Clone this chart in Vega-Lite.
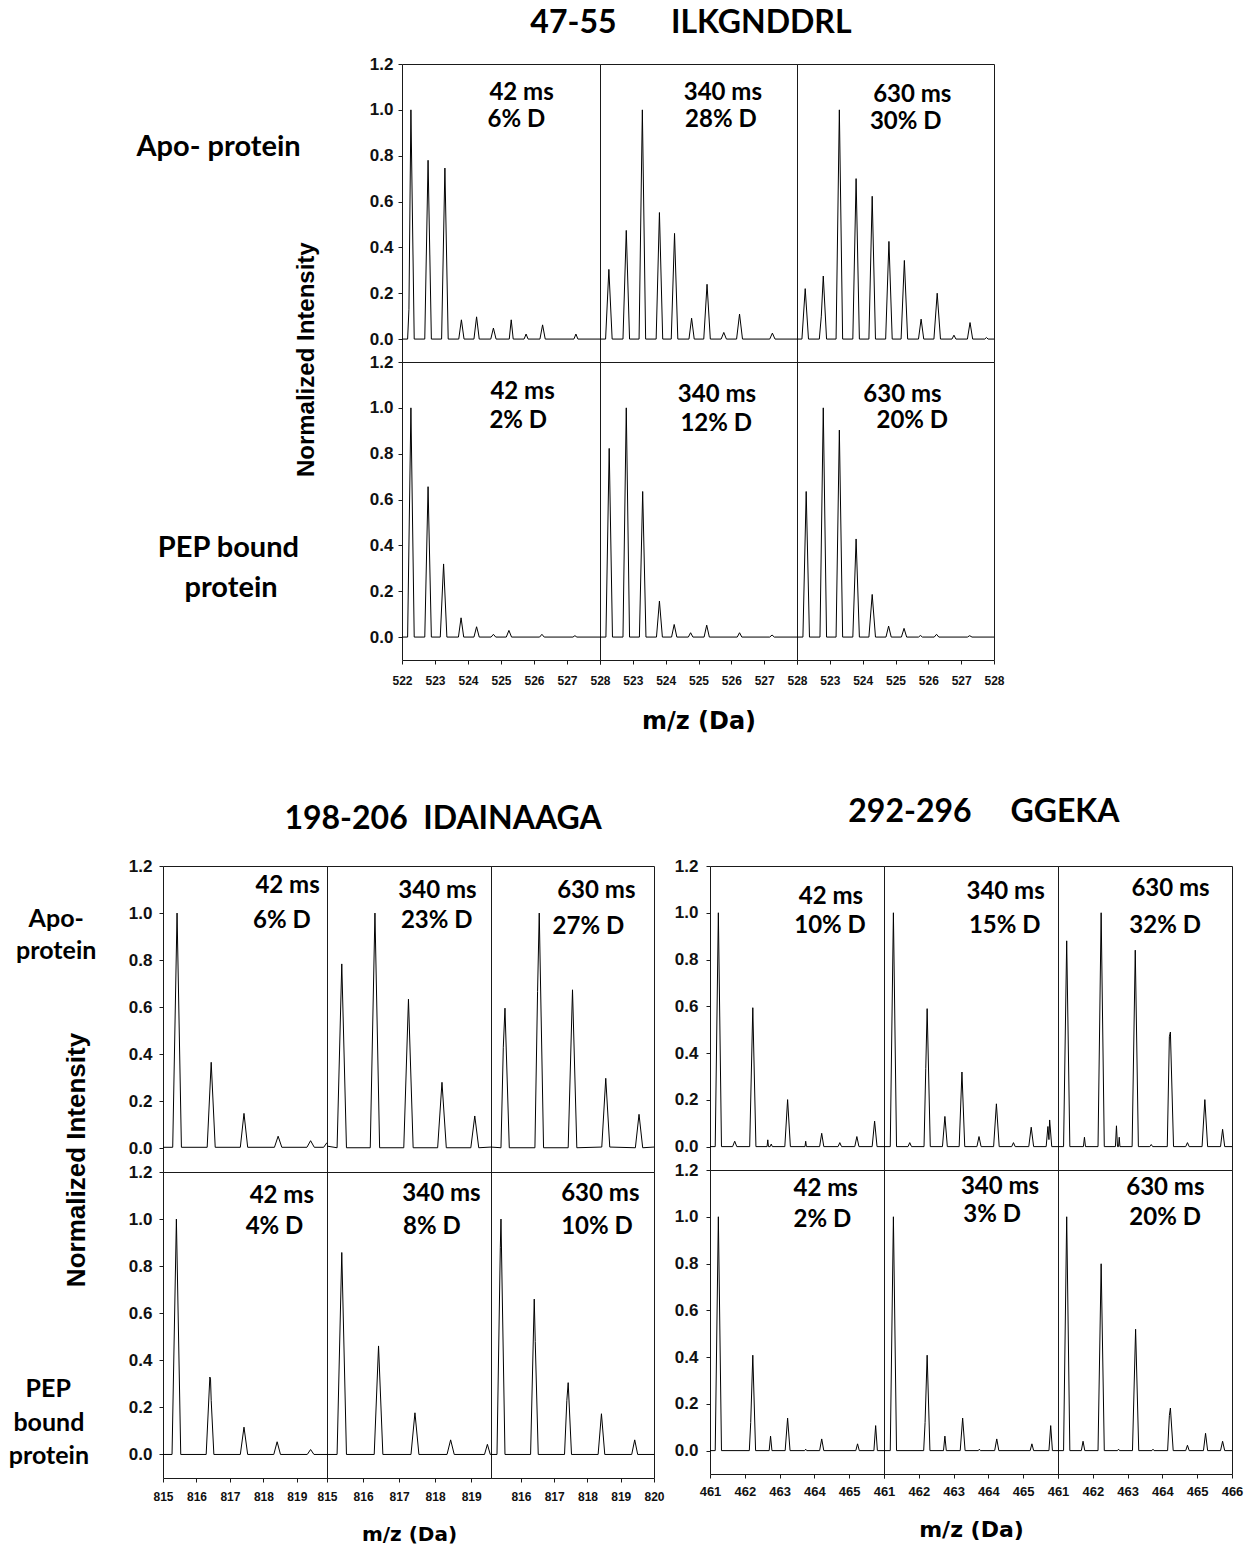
{
"$schema": "https://vega.github.io/schema/vega-lite/v6.json",
"background": "white",
"padding": {"left": 8, "top": 6, "right": 5, "bottom": 3},
"spacing": 61,
"config": {
  "view": {"stroke": "#1a1a1a", "strokeWidth": 1},
  "axis": {"grid": false, "domain": false, "ticks": true, "tickColor": "#1a1a1a", "tickSize": 4, "labelFont": "Liberation Sans", "labelFontWeight": "bold", "labelColor": "#111111", "labelOverlap": false, "labelFlush": false},
  "line": {"color": "black", "strokeWidth": 1},
  "text": {"font": "Lato", "fontSize": 24, "fontWeight": "bold", "align": "left", "baseline": "middle", "color": "black"}
},
"datasets": {
  "one": [{}],
  "b1a1": [{"mz":522,"i":0},{"mz":522.17,"i":0},{"mz":522.21,"i":0.13},{"mz":522.27,"i":1},{"mz":522.37,"i":0},{"mz":522.69,"i":0},{"mz":522.79,"i":0.78},{"mz":522.89,"i":0},{"mz":523.2,"i":0},{"mz":523.3,"i":0.746},{"mz":523.4,"i":0},{"mz":523.72,"i":0},{"mz":523.8,"i":0.084},{"mz":523.88,"i":0},{"mz":524.18,"i":0},{"mz":524.26,"i":0.097},{"mz":524.34,"i":0},{"mz":524.69,"i":0},{"mz":524.77,"i":0.048},{"mz":524.85,"i":0},{"mz":525.25,"i":0},{"mz":525.31,"i":0.084},{"mz":525.37,"i":0},{"mz":525.7,"i":0},{"mz":525.76,"i":0.022},{"mz":525.82,"i":0},{"mz":526.18,"i":0},{"mz":526.26,"i":0.062},{"mz":526.34,"i":0},{"mz":527.21,"i":0},{"mz":527.27,"i":0.022},{"mz":527.33,"i":0},{"mz":528,"i":0}],
  "b1a2": [{"mz":522,"i":0},{"mz":522.17,"i":0},{"mz":522.27,"i":0.304},{"mz":522.37,"i":0},{"mz":522.7,"i":0},{"mz":522.8,"i":0.474},{"mz":522.9,"i":0},{"mz":523.19,"i":0},{"mz":523.29,"i":1},{"mz":523.39,"i":0},{"mz":523.71,"i":0},{"mz":523.81,"i":0.552},{"mz":523.91,"i":0},{"mz":524.17,"i":0},{"mz":524.27,"i":0.461},{"mz":524.37,"i":0},{"mz":524.71,"i":0},{"mz":524.79,"i":0.091},{"mz":524.87,"i":0},{"mz":525.16,"i":0},{"mz":525.26,"i":0.239},{"mz":525.36,"i":0},{"mz":525.69,"i":0},{"mz":525.77,"i":0.029},{"mz":525.85,"i":0},{"mz":526.16,"i":0},{"mz":526.25,"i":0.109},{"mz":526.34,"i":0},{"mz":527.17,"i":0},{"mz":527.25,"i":0.026},{"mz":527.33,"i":0},{"mz":528,"i":0}],
  "b1a3": [{"mz":522,"i":0},{"mz":522.15,"i":0},{"mz":522.25,"i":0.22},{"mz":522.35,"i":0},{"mz":522.68,"i":0},{"mz":522.74,"i":0.1},{"mz":522.8,"i":0.275},{"mz":522.9,"i":0},{"mz":523.19,"i":0},{"mz":523.29,"i":1},{"mz":523.39,"i":0},{"mz":523.7,"i":0},{"mz":523.8,"i":0.7},{"mz":523.9,"i":0},{"mz":524.19,"i":0},{"mz":524.29,"i":0.623},{"mz":524.39,"i":0},{"mz":524.7,"i":0},{"mz":524.8,"i":0.426},{"mz":524.9,"i":0},{"mz":525.17,"i":0},{"mz":525.27,"i":0.343},{"mz":525.37,"i":0},{"mz":525.7,"i":0},{"mz":525.78,"i":0.087},{"mz":525.86,"i":0},{"mz":526.17,"i":0},{"mz":526.27,"i":0.2},{"mz":526.37,"i":0},{"mz":526.72,"i":0},{"mz":526.78,"i":0.017},{"mz":526.84,"i":0},{"mz":527.19,"i":0},{"mz":527.27,"i":0.072},{"mz":527.35,"i":0},{"mz":527.72,"i":0},{"mz":527.77,"i":0.007},{"mz":527.82,"i":0},{"mz":528,"i":0}],
  "b1b1": [{"mz":522,"i":0},{"mz":522.17,"i":0},{"mz":522.27,"i":1},{"mz":522.37,"i":0},{"mz":522.69,"i":0},{"mz":522.79,"i":0.656},{"mz":522.89,"i":0},{"mz":523.16,"i":0},{"mz":523.26,"i":0.319},{"mz":523.36,"i":0},{"mz":523.71,"i":0},{"mz":523.79,"i":0.084},{"mz":523.87,"i":0},{"mz":524.18,"i":0},{"mz":524.26,"i":0.045},{"mz":524.34,"i":0},{"mz":524.7,"i":0},{"mz":524.77,"i":0.012},{"mz":524.84,"i":0},{"mz":525.16,"i":0},{"mz":525.24,"i":0.029},{"mz":525.32,"i":0},{"mz":526.17,"i":0},{"mz":526.24,"i":0.012},{"mz":526.31,"i":0},{"mz":527.18,"i":0},{"mz":527.24,"i":0.006},{"mz":527.3,"i":0},{"mz":528,"i":0}],
  "b1b2": [{"mz":522,"i":0},{"mz":522.18,"i":0},{"mz":522.28,"i":0.823},{"mz":522.38,"i":0},{"mz":522.7,"i":0},{"mz":522.8,"i":1},{"mz":522.9,"i":0},{"mz":523.2,"i":0},{"mz":523.3,"i":0.635},{"mz":523.4,"i":0},{"mz":523.72,"i":0},{"mz":523.81,"i":0.157},{"mz":523.9,"i":0},{"mz":524.18,"i":0},{"mz":524.26,"i":0.055},{"mz":524.34,"i":0},{"mz":524.69,"i":0},{"mz":524.76,"i":0.019},{"mz":524.83,"i":0},{"mz":525.17,"i":0},{"mz":525.25,"i":0.052},{"mz":525.33,"i":0},{"mz":526.18,"i":0},{"mz":526.25,"i":0.019},{"mz":526.32,"i":0},{"mz":527.17,"i":0},{"mz":527.24,"i":0.009},{"mz":527.31,"i":0},{"mz":528,"i":0}],
  "b1b3": [{"mz":522,"i":0},{"mz":522.18,"i":0},{"mz":522.28,"i":0.635},{"mz":522.38,"i":0},{"mz":522.7,"i":0},{"mz":522.8,"i":1},{"mz":522.9,"i":0},{"mz":523.19,"i":0},{"mz":523.29,"i":0.903},{"mz":523.39,"i":0},{"mz":523.7,"i":0},{"mz":523.8,"i":0.428},{"mz":523.9,"i":0},{"mz":524.19,"i":0},{"mz":524.29,"i":0.186},{"mz":524.39,"i":0},{"mz":524.71,"i":0},{"mz":524.79,"i":0.048},{"mz":524.87,"i":0},{"mz":525.18,"i":0},{"mz":525.26,"i":0.038},{"mz":525.34,"i":0},{"mz":525.7,"i":0},{"mz":525.76,"i":0.007},{"mz":525.82,"i":0},{"mz":526.18,"i":0},{"mz":526.25,"i":0.012},{"mz":526.32,"i":0},{"mz":527.19,"i":0},{"mz":527.26,"i":0.006},{"mz":527.33,"i":0},{"mz":528,"i":0}],
  "b2a1": [{"mz":815,"i":0.005},{"mz":815.29,"i":0.005},{"mz":815.42,"i":1},{"mz":815.55,"i":0.005},{"mz":816.32,"i":0.005},{"mz":816.44,"i":0.366},{"mz":816.56,"i":0.005},{"mz":817.31,"i":0.005},{"mz":817.42,"i":0.149},{"mz":817.53,"i":0.005},{"mz":818.33,"i":0.005},{"mz":818.44,"i":0.052},{"mz":818.55,"i":0.005},{"mz":819.3,"i":0.005},{"mz":819.41,"i":0.033},{"mz":819.52,"i":0.005},{"mz":819.8,"i":0.005},{"mz":819.9,"i":0.025}],
  "b2a2": [{"mz":815,"i":0.01},{"mz":815.28,"i":0.003},{"mz":815.41,"i":0.784},{"mz":815.54,"i":0.003},{"mz":816.2,"i":0.003},{"mz":816.33,"i":1},{"mz":816.46,"i":0.003},{"mz":817.13,"i":0.003},{"mz":817.26,"i":0.634},{"mz":817.39,"i":0.003},{"mz":818.07,"i":0.003},{"mz":818.19,"i":0.281},{"mz":818.31,"i":0.003},{"mz":818.99,"i":0.003},{"mz":819.1,"i":0.138},{"mz":819.21,"i":0.003},{"mz":819.55,"i":0.006}],
  "b2a3": [{"mz":815.1,"i":0.006},{"mz":815.4,"i":0.003},{"mz":815.47,"i":0.43},{"mz":815.52,"i":0.596},{"mz":815.65,"i":0.003},{"mz":816.42,"i":0.003},{"mz":816.5,"i":0.667},{"mz":816.55,"i":1},{"mz":816.68,"i":0.003},{"mz":817.42,"i":0.003},{"mz":817.55,"i":0.674},{"mz":817.68,"i":0.003},{"mz":818.43,"i":0.006},{"mz":818.55,"i":0.298},{"mz":818.67,"i":0.006},{"mz":819.44,"i":0.003},{"mz":819.55,"i":0.145},{"mz":819.66,"i":0.003},{"mz":820,"i":0.006}],
  "b2b1": [{"mz":815,"i":0},{"mz":815.27,"i":0},{"mz":815.4,"i":1},{"mz":815.53,"i":0},{"mz":816.29,"i":0},{"mz":816.4,"i":0.329},{"mz":816.42,"i":0.32},{"mz":816.44,"i":0.23},{"mz":816.52,"i":0},{"mz":817.31,"i":0},{"mz":817.42,"i":0.116},{"mz":817.53,"i":0},{"mz":818.31,"i":0},{"mz":818.41,"i":0.054},{"mz":818.51,"i":0},{"mz":819.31,"i":0},{"mz":819.41,"i":0.021},{"mz":819.51,"i":0},{"mz":819.9,"i":0}],
  "b2b2": [{"mz":815,"i":0},{"mz":815.28,"i":0},{"mz":815.41,"i":0.858},{"mz":815.54,"i":0},{"mz":816.31,"i":0},{"mz":816.43,"i":0.461},{"mz":816.55,"i":0},{"mz":817.33,"i":0},{"mz":817.44,"i":0.177},{"mz":817.55,"i":0},{"mz":818.33,"i":0},{"mz":818.43,"i":0.062},{"mz":818.53,"i":0},{"mz":819.37,"i":0},{"mz":819.45,"i":0.043},{"mz":819.53,"i":0},{"mz":819.55,"i":0}],
  "b2b3": [{"mz":815.1,"i":0},{"mz":815.28,"i":0},{"mz":815.38,"i":0.88},{"mz":815.4,"i":1},{"mz":815.52,"i":0},{"mz":816.29,"i":0},{"mz":816.4,"i":0.66},{"mz":816.43,"i":0.48},{"mz":816.52,"i":0},{"mz":817.31,"i":0},{"mz":817.38,"i":0.23},{"mz":817.42,"i":0.305},{"mz":817.52,"i":0},{"mz":818.32,"i":0},{"mz":818.42,"i":0.173},{"mz":818.52,"i":0},{"mz":819.33,"i":0},{"mz":819.42,"i":0.062},{"mz":819.51,"i":0},{"mz":820,"i":0}],
  "b3a1": [{"mz":461,"i":0},{"mz":461.15,"i":0},{"mz":461.24,"i":1},{"mz":461.33,"i":0},{"mz":461.65,"i":0},{"mz":461.71,"i":0.023},{"mz":461.77,"i":0},{"mz":462.14,"i":0},{"mz":462.23,"i":0.594},{"mz":462.32,"i":0},{"mz":462.64,"i":0},{"mz":462.66,"i":0.029},{"mz":462.68,"i":0},{"mz":462.73,"i":0},{"mz":462.76,"i":0.011},{"mz":462.79,"i":0},{"mz":463.15,"i":0},{"mz":463.23,"i":0.201},{"mz":463.31,"i":0},{"mz":463.73,"i":0},{"mz":463.75,"i":0.023},{"mz":463.77,"i":0},{"mz":464.15,"i":0},{"mz":464.21,"i":0.057},{"mz":464.27,"i":0},{"mz":464.68,"i":0},{"mz":464.73,"i":0.017},{"mz":464.78,"i":0},{"mz":465.16,"i":0},{"mz":465.22,"i":0.043},{"mz":465.28,"i":0},{"mz":465.66,"i":0},{"mz":465.73,"i":0.109},{"mz":465.8,"i":0},{"mz":466,"i":0}],
  "b3a2": [{"mz":461,"i":0},{"mz":461.18,"i":0},{"mz":461.27,"i":1},{"mz":461.36,"i":0},{"mz":461.69,"i":0},{"mz":461.74,"i":0.017},{"mz":461.79,"i":0},{"mz":462.15,"i":0},{"mz":462.2,"i":0.333},{"mz":462.24,"i":0.59},{"mz":462.33,"i":0},{"mz":462.68,"i":0},{"mz":462.75,"i":0.129},{"mz":462.82,"i":0},{"mz":463.16,"i":0},{"mz":463.24,"i":0.319},{"mz":463.32,"i":0},{"mz":463.67,"i":0},{"mz":463.73,"i":0.043},{"mz":463.79,"i":0},{"mz":464.15,"i":0},{"mz":464.23,"i":0.183},{"mz":464.31,"i":0},{"mz":464.67,"i":0},{"mz":464.72,"i":0.017},{"mz":464.77,"i":0},{"mz":465.16,"i":0},{"mz":465.23,"i":0.083},{"mz":465.3,"i":0},{"mz":465.66,"i":0},{"mz":465.71,"i":0.086},{"mz":465.74,"i":0.03},{"mz":465.76,"i":0.114},{"mz":465.82,"i":0},{"mz":466,"i":0}],
  "b3a3": [{"mz":461,"i":0},{"mz":461.16,"i":0},{"mz":461.25,"i":0.88},{"mz":461.34,"i":0},{"mz":461.73,"i":0},{"mz":461.76,"i":0.04},{"mz":461.79,"i":0},{"mz":462.15,"i":0},{"mz":462.24,"i":1},{"mz":462.33,"i":0},{"mz":462.65,"i":0},{"mz":462.68,"i":0.089},{"mz":462.71,"i":0},{"mz":462.74,"i":0},{"mz":462.76,"i":0.04},{"mz":462.78,"i":0},{"mz":463.13,"i":0},{"mz":463.22,"i":0.84},{"mz":463.31,"i":0},{"mz":463.64,"i":0},{"mz":463.68,"i":0.009},{"mz":463.72,"i":0},{"mz":464.14,"i":0},{"mz":464.2,"i":0.47},{"mz":464.23,"i":0.49},{"mz":464.32,"i":0},{"mz":464.67,"i":0},{"mz":464.72,"i":0.017},{"mz":464.77,"i":0},{"mz":465.14,"i":0},{"mz":465.22,"i":0.201},{"mz":465.3,"i":0},{"mz":465.67,"i":0},{"mz":465.73,"i":0.074},{"mz":465.79,"i":0},{"mz":466,"i":0}],
  "b3b1": [{"mz":461,"i":0},{"mz":461.15,"i":0},{"mz":461.24,"i":1},{"mz":461.33,"i":0},{"mz":462.13,"i":0},{"mz":462.17,"i":0.12},{"mz":462.23,"i":0.408},{"mz":462.31,"i":0},{"mz":462.7,"i":0},{"mz":462.74,"i":0.062},{"mz":462.78,"i":0},{"mz":463.16,"i":0},{"mz":463.23,"i":0.139},{"mz":463.3,"i":0},{"mz":463.72,"i":0},{"mz":463.75,"i":0.006},{"mz":463.78,"i":0},{"mz":464.15,"i":0},{"mz":464.21,"i":0.05},{"mz":464.27,"i":0},{"mz":465.19,"i":0},{"mz":465.24,"i":0.029},{"mz":465.29,"i":0},{"mz":465.71,"i":0},{"mz":465.76,"i":0.107},{"mz":465.81,"i":0},{"mz":466,"i":0}],
  "b3b2": [{"mz":461,"i":0},{"mz":461.18,"i":0},{"mz":461.27,"i":1},{"mz":461.36,"i":0},{"mz":462.14,"i":0},{"mz":462.18,"i":0.12},{"mz":462.24,"i":0.408},{"mz":462.32,"i":0},{"mz":462.71,"i":0},{"mz":462.75,"i":0.062},{"mz":462.79,"i":0},{"mz":463.19,"i":0},{"mz":463.26,"i":0.139},{"mz":463.33,"i":0},{"mz":463.71,"i":0},{"mz":463.74,"i":0.006},{"mz":463.77,"i":0},{"mz":464.18,"i":0},{"mz":464.24,"i":0.05},{"mz":464.3,"i":0},{"mz":465.2,"i":0},{"mz":465.25,"i":0.029},{"mz":465.3,"i":0},{"mz":465.74,"i":0},{"mz":465.79,"i":0.107},{"mz":465.84,"i":0},{"mz":466,"i":0}],
  "b3b3": [{"mz":461,"i":0},{"mz":461.16,"i":0},{"mz":461.25,"i":1},{"mz":461.34,"i":0},{"mz":461.67,"i":0},{"mz":461.72,"i":0.04},{"mz":461.77,"i":0},{"mz":462.15,"i":0},{"mz":462.24,"i":0.799},{"mz":462.33,"i":0},{"mz":462.71,"i":0},{"mz":462.74,"i":0.006},{"mz":462.77,"i":0},{"mz":463.14,"i":0},{"mz":463.23,"i":0.519},{"mz":463.32,"i":0},{"mz":463.7,"i":0},{"mz":463.73,"i":0.006},{"mz":463.76,"i":0},{"mz":464.15,"i":0},{"mz":464.2,"i":0.15},{"mz":464.23,"i":0.182},{"mz":464.31,"i":0},{"mz":464.67,"i":0},{"mz":464.72,"i":0.023},{"mz":464.77,"i":0},{"mz":465.18,"i":0},{"mz":465.24,"i":0.074},{"mz":465.3,"i":0},{"mz":465.67,"i":0},{"mz":465.73,"i":0.04},{"mz":465.79,"i":0},{"mz":466,"i":0}]
},
"vconcat": [
  {"concat": [
    {"width": 239, "height": 298, "view": {"stroke": null}, "data": {"name": "one"}, "mark": {"type": "point", "opacity": 0}},
    {"width": 198, "height": 298, "layer": [
      {"data": {"name": "b1a1"}, "mark": "line", "encoding": {"x": {"field": "mz", "type": "quantitative", "scale": {"domain": [522, 528], "nice": false, "zero": false}, "axis": null}, "y": {"field": "i", "type": "quantitative", "scale": {"domain": [-0.1, 1.2], "nice": false, "zero": false}, "axis": {"values": [0, 0.2, 0.4, 0.6, 0.8, 1, 1.2], "tickCount": 20, "format": ".1f", "title": null, "labelOverlap": false, "labelFontSize": 17, "labelPadding": 5}}}},
      {"data": {"name": "one"}, "mark": {"type": "text", "text": "42 ms"}, "encoding": {"x": {"datum": 524.65, "type": "quantitative", "axis": null}, "y": {"datum": 1.072, "type": "quantitative"}}},
      {"data": {"name": "one"}, "mark": {"type": "text", "text": "6% D"}, "encoding": {"x": {"datum": 524.59, "type": "quantitative", "axis": null}, "y": {"datum": 0.957, "type": "quantitative"}}},
      {"data": {"name": "one"}, "mark": {"type": "text", "text": "Apo- protein", "fontSize": 29, "align": "center"}, "encoding": {"x": {"datum": 516.44, "type": "quantitative", "axis": null}, "y": {"datum": 0.836, "type": "quantitative"}}},
      {"data": {"name": "one"}, "mark": {"type": "text", "text": "Normalized Intensity", "font": "Liberation Sans", "fontSize": 24, "align": "center", "angle": 270}, "encoding": {"x": {"datum": 519.12, "type": "quantitative", "axis": null}, "y": {"datum": -0.09, "type": "quantitative"}}}
    ]},
    {"width": 197, "height": 298, "layer": [
      {"data": {"name": "b1a2"}, "mark": "line", "encoding": {"x": {"field": "mz", "type": "quantitative", "scale": {"domain": [522, 528], "nice": false, "zero": false}, "axis": null}, "y": {"field": "i", "type": "quantitative", "scale": {"domain": [-0.1, 1.2], "nice": false, "zero": false}, "axis": null}}},
      {"data": {"name": "one"}, "mark": {"type": "text", "text": "340 ms"}, "encoding": {"x": {"datum": 524.55, "type": "quantitative", "axis": null}, "y": {"datum": 1.072, "type": "quantitative", "axis": null}}},
      {"data": {"name": "one"}, "mark": {"type": "text", "text": "28% D"}, "encoding": {"x": {"datum": 524.59, "type": "quantitative", "axis": null}, "y": {"datum": 0.954, "type": "quantitative", "axis": null}}},
      {"data": {"name": "one"}, "mark": {"type": "text", "text": "47-55\u00a0\u00a0\u00a0\u00a0\u00a0\u00a0\u00a0ILKGNDDRL", "fontSize": 32, "align": "center"}, "encoding": {"x": {"datum": 524.77, "type": "quantitative", "axis": null}, "y": {"datum": 1.377, "type": "quantitative", "axis": null}}}
    ]},
    {"width": 197, "height": 298, "layer": [
      {"data": {"name": "b1a3"}, "mark": "line", "encoding": {"x": {"field": "mz", "type": "quantitative", "scale": {"domain": [522, 528], "nice": false, "zero": false}, "axis": null}, "y": {"field": "i", "type": "quantitative", "scale": {"domain": [-0.1, 1.2], "nice": false, "zero": false}, "axis": null}}},
      {"data": {"name": "one"}, "mark": {"type": "text", "text": "630 ms"}, "encoding": {"x": {"datum": 524.32, "type": "quantitative", "axis": null}, "y": {"datum": 1.065, "type": "quantitative", "axis": null}}},
      {"data": {"name": "one"}, "mark": {"type": "text", "text": "30% D"}, "encoding": {"x": {"datum": 524.22, "type": "quantitative", "axis": null}, "y": {"datum": 0.949, "type": "quantitative", "axis": null}}}
    ]},
    {"width": 239, "height": 298, "view": {"stroke": null}, "data": {"name": "one"}, "mark": {"type": "point", "opacity": 0}},
    {"width": 198, "height": 298, "layer": [
      {"data": {"name": "b1b1"}, "mark": "line", "encoding": {"x": {"field": "mz", "type": "quantitative", "scale": {"domain": [522, 528], "nice": false, "zero": false}, "axis": {"values": [522, 523, 524, 525, 526, 527, 528], "tickCount": 20, "format": "d", "title": null, "labelOverlap": false, "labelFontSize": 12, "labelPadding": 11}}, "y": {"field": "i", "type": "quantitative", "scale": {"domain": [-0.1, 1.2], "nice": false, "zero": false}, "axis": {"values": [0, 0.2, 0.4, 0.6, 0.8, 1, 1.2], "tickCount": 20, "format": ".1f", "title": null, "labelOverlap": false, "labelFontSize": 17, "labelPadding": 5}}}},
      {"data": {"name": "one"}, "mark": {"type": "text", "text": "42 ms"}, "encoding": {"x": {"datum": 524.68, "type": "quantitative"}, "y": {"datum": 1.07, "type": "quantitative"}}},
      {"data": {"name": "one"}, "mark": {"type": "text", "text": "2% D"}, "encoding": {"x": {"datum": 524.65, "type": "quantitative"}, "y": {"datum": 0.942, "type": "quantitative"}}},
      {"data": {"name": "one"}, "mark": {"type": "text", "text": "PEP bound", "fontSize": 29, "align": "center"}, "encoding": {"x": {"datum": 516.74, "type": "quantitative"}, "y": {"datum": 0.388, "type": "quantitative"}}},
      {"data": {"name": "one"}, "mark": {"type": "text", "text": "protein", "fontSize": 29, "align": "center"}, "encoding": {"x": {"datum": 516.82, "type": "quantitative"}, "y": {"datum": 0.212, "type": "quantitative"}}}
    ]},
    {"width": 197, "height": 298, "layer": [
      {"data": {"name": "b1b2"}, "mark": "line", "encoding": {"x": {"field": "mz", "type": "quantitative", "scale": {"domain": [522, 528], "nice": false, "zero": false}, "axis": {"values": [522, 523, 524, 525, 526, 527, 528], "tickCount": 20, "format": "d", "labelExpr": "datum.value == 522 ? '' : datum.label", "labelOverlap": false, "labelFontSize": 12, "labelPadding": 11, "title": "m/z (Da)", "titleFont": "DejaVu Sans", "titleFontSize": 24, "titleFontWeight": "bold", "titleColor": "black", "titleY": 61, "titleBaseline": "middle"}}, "y": {"field": "i", "type": "quantitative", "scale": {"domain": [-0.1, 1.2], "nice": false, "zero": false}, "axis": null}}},
      {"data": {"name": "one"}, "mark": {"type": "text", "text": "340 ms"}, "encoding": {"x": {"datum": 524.37, "type": "quantitative"}, "y": {"datum": 1.058, "type": "quantitative", "axis": null}}},
      {"data": {"name": "one"}, "mark": {"type": "text", "text": "12% D"}, "encoding": {"x": {"datum": 524.45, "type": "quantitative"}, "y": {"datum": 0.928, "type": "quantitative", "axis": null}}}
    ]},
    {"width": 197, "height": 298, "layer": [
      {"data": {"name": "b1b3"}, "mark": "line", "encoding": {"x": {"field": "mz", "type": "quantitative", "scale": {"domain": [522, 528], "nice": false, "zero": false}, "axis": {"values": [522, 523, 524, 525, 526, 527, 528], "tickCount": 20, "format": "d", "labelExpr": "datum.value == 522 ? '' : datum.label", "title": null, "labelOverlap": false, "labelFontSize": 12, "labelPadding": 11}}, "y": {"field": "i", "type": "quantitative", "scale": {"domain": [-0.1, 1.2], "nice": false, "zero": false}, "axis": null}}},
      {"data": {"name": "one"}, "mark": {"type": "text", "text": "630 ms"}, "encoding": {"x": {"datum": 524.02, "type": "quantitative"}, "y": {"datum": 1.058, "type": "quantitative", "axis": null}}},
      {"data": {"name": "one"}, "mark": {"type": "text", "text": "20% D"}, "encoding": {"x": {"datum": 524.42, "type": "quantitative"}, "y": {"datum": 0.942, "type": "quantitative", "axis": null}}}
    ]}
  ], "columns": 4, "spacing": 0, "bounds": "flush"},
  {"hconcat": [
    {"concat": [
      {"width": 164, "height": 306, "layer": [
        {"data": {"name": "b2a1"}, "mark": "line", "encoding": {"x": {"field": "mz", "type": "quantitative", "scale": {"domain": [815, 819.9], "nice": false, "zero": false}, "axis": null}, "y": {"field": "i", "type": "quantitative", "scale": {"domain": [-0.1, 1.2], "nice": false, "zero": false}, "axis": {"values": [0, 0.2, 0.4, 0.6, 0.8, 1, 1.2], "tickCount": 20, "format": ".1f", "title": null, "labelOverlap": false, "labelFontSize": 17, "labelPadding": 7}}}},
        {"data": {"name": "one"}, "mark": {"type": "text", "text": "42 ms"}, "encoding": {"x": {"datum": 817.76, "type": "quantitative", "axis": null}, "y": {"datum": 1.113, "type": "quantitative"}}},
        {"data": {"name": "one"}, "mark": {"type": "text", "text": "6% D"}, "encoding": {"x": {"datum": 817.69, "type": "quantitative", "axis": null}, "y": {"datum": 0.967, "type": "quantitative"}}},
        {"data": {"name": "one"}, "mark": {"type": "text", "text": "Apo-", "fontSize": 25, "align": "center"}, "encoding": {"x": {"datum": 811.81, "type": "quantitative", "axis": null}, "y": {"datum": 0.974, "type": "quantitative"}}},
        {"data": {"name": "one"}, "mark": {"type": "text", "text": "protein", "fontSize": 25, "align": "center"}, "encoding": {"x": {"datum": 811.81, "type": "quantitative", "axis": null}, "y": {"datum": 0.838, "type": "quantitative"}}},
        {"data": {"name": "one"}, "mark": {"type": "text", "text": "Normalized Intensity", "font": "Liberation Sans", "fontSize": 26, "align": "center", "angle": 270}, "encoding": {"x": {"datum": 812.43, "type": "quantitative", "axis": null}, "y": {"datum": -0.049, "type": "quantitative"}}}
      ]},
      {"width": 164, "height": 306, "layer": [
        {"data": {"name": "b2a2"}, "mark": "line", "encoding": {"x": {"field": "mz", "type": "quantitative", "scale": {"domain": [815, 819.55], "nice": false, "zero": false}, "axis": null}, "y": {"field": "i", "type": "quantitative", "scale": {"domain": [-0.1, 1.2], "nice": false, "zero": false}, "axis": null}}},
        {"data": {"name": "one"}, "mark": {"type": "text", "text": "340 ms"}, "encoding": {"x": {"datum": 816.98, "type": "quantitative", "axis": null}, "y": {"datum": 1.095, "type": "quantitative", "axis": null}}},
        {"data": {"name": "one"}, "mark": {"type": "text", "text": "23% D"}, "encoding": {"x": {"datum": 817.05, "type": "quantitative", "axis": null}, "y": {"datum": 0.967, "type": "quantitative", "axis": null}}},
        {"data": {"name": "one"}, "mark": {"type": "text", "text": "198-206\u00a0\u00a0IDAINAAGA", "fontSize": 32, "align": "center"}, "encoding": {"x": {"datum": 818.22, "type": "quantitative", "axis": null}, "y": {"datum": 1.4, "type": "quantitative", "axis": null}}}
      ]},
      {"width": 163, "height": 306, "layer": [
        {"data": {"name": "b2a3"}, "mark": "line", "encoding": {"x": {"field": "mz", "type": "quantitative", "scale": {"domain": [815.1, 820], "nice": false, "zero": false}, "axis": null}, "y": {"field": "i", "type": "quantitative", "scale": {"domain": [-0.1, 1.2], "nice": false, "zero": false}, "axis": null}}},
        {"data": {"name": "one"}, "mark": {"type": "text", "text": "630 ms"}, "encoding": {"x": {"datum": 817.09, "type": "quantitative", "axis": null}, "y": {"datum": 1.095, "type": "quantitative", "axis": null}}},
        {"data": {"name": "one"}, "mark": {"type": "text", "text": "27% D"}, "encoding": {"x": {"datum": 816.95, "type": "quantitative", "axis": null}, "y": {"datum": 0.94, "type": "quantitative", "axis": null}}}
      ]},
      {"width": 164, "height": 306, "layer": [
        {"data": {"name": "b2b1"}, "mark": "line", "encoding": {"x": {"field": "mz", "type": "quantitative", "scale": {"domain": [815, 819.9], "nice": false, "zero": false}, "axis": {"values": [815, 816, 817, 818, 819], "tickCount": 20, "format": "d", "title": null, "labelOverlap": false, "labelFontSize": 12, "labelPadding": 9}}, "y": {"field": "i", "type": "quantitative", "scale": {"domain": [-0.1, 1.2], "nice": false, "zero": false}, "axis": {"values": [0, 0.2, 0.4, 0.6, 0.8, 1, 1.2], "tickCount": 20, "format": ".1f", "title": null, "labelOverlap": false, "labelFontSize": 17, "labelPadding": 7}}}},
        {"data": {"name": "one"}, "mark": {"type": "text", "text": "42 ms"}, "encoding": {"x": {"datum": 817.59, "type": "quantitative"}, "y": {"datum": 1.099, "type": "quantitative"}}},
        {"data": {"name": "one"}, "mark": {"type": "text", "text": "4% D"}, "encoding": {"x": {"datum": 817.47, "type": "quantitative"}, "y": {"datum": 0.965, "type": "quantitative"}}},
        {"data": {"name": "one"}, "mark": {"type": "text", "text": "PEP", "fontSize": 25, "align": "center"}, "encoding": {"x": {"datum": 811.57, "type": "quantitative"}, "y": {"datum": 0.279, "type": "quantitative"}}},
        {"data": {"name": "one"}, "mark": {"type": "text", "text": "bound", "fontSize": 25, "align": "center"}, "encoding": {"x": {"datum": 811.59, "type": "quantitative"}, "y": {"datum": 0.134, "type": "quantitative"}}},
        {"data": {"name": "one"}, "mark": {"type": "text", "text": "protein", "fontSize": 25, "align": "center"}, "encoding": {"x": {"datum": 811.59, "type": "quantitative"}, "y": {"datum": -0.006, "type": "quantitative"}}}
      ]},
      {"width": 164, "height": 306, "layer": [
        {"data": {"name": "b2b2"}, "mark": "line", "encoding": {"x": {"field": "mz", "type": "quantitative", "scale": {"domain": [815, 819.55], "nice": false, "zero": false}, "axis": {"values": [815, 816, 817, 818, 819], "tickCount": 20, "format": "d", "labelOverlap": false, "labelFontSize": 12, "labelPadding": 9, "title": "m/z (Da)", "titleFont": "DejaVu Sans", "titleFontSize": 20, "titleFontWeight": "bold", "titleColor": "black", "titleY": 56, "titleBaseline": "middle"}}, "y": {"field": "i", "type": "quantitative", "scale": {"domain": [-0.1, 1.2], "nice": false, "zero": false}, "axis": null}}},
        {"data": {"name": "one"}, "mark": {"type": "text", "text": "340 ms"}, "encoding": {"x": {"datum": 817.09, "type": "quantitative"}, "y": {"datum": 1.106, "type": "quantitative", "axis": null}}},
        {"data": {"name": "one"}, "mark": {"type": "text", "text": "8% D"}, "encoding": {"x": {"datum": 817.11, "type": "quantitative"}, "y": {"datum": 0.965, "type": "quantitative", "axis": null}}}
      ]},
      {"width": 163, "height": 306, "layer": [
        {"data": {"name": "b2b3"}, "mark": "line", "encoding": {"x": {"field": "mz", "type": "quantitative", "scale": {"domain": [815.1, 820], "nice": false, "zero": false}, "axis": {"values": [816, 817, 818, 819, 820], "tickCount": 20, "format": "d", "title": null, "labelOverlap": false, "labelFontSize": 12, "labelPadding": 9}}, "y": {"field": "i", "type": "quantitative", "scale": {"domain": [-0.1, 1.2], "nice": false, "zero": false}, "axis": null}}},
        {"data": {"name": "one"}, "mark": {"type": "text", "text": "630 ms"}, "encoding": {"x": {"datum": 817.21, "type": "quantitative"}, "y": {"datum": 1.106, "type": "quantitative", "axis": null}}},
        {"data": {"name": "one"}, "mark": {"type": "text", "text": "10% D"}, "encoding": {"x": {"datum": 817.21, "type": "quantitative"}, "y": {"datum": 0.965, "type": "quantitative", "axis": null}}}
      ]}
    ], "columns": 3, "spacing": 0, "bounds": "flush"},
    {"concat": [
      {"width": 174, "height": 304, "layer": [
        {"data": {"name": "b3a1"}, "mark": "line", "encoding": {"x": {"field": "mz", "type": "quantitative", "scale": {"domain": [461, 466], "nice": false, "zero": false}, "axis": null}, "y": {"field": "i", "type": "quantitative", "scale": {"domain": [-0.1, 1.2], "nice": false, "zero": false}, "axis": {"values": [0, 0.2, 0.4, 0.6, 0.8, 1, 1.2], "tickCount": 20, "format": ".1f", "title": null, "labelOverlap": false, "labelFontSize": 17, "labelPadding": 8}}}},
        {"data": {"name": "one"}, "mark": {"type": "text", "text": "42 ms"}, "encoding": {"x": {"datum": 463.55, "type": "quantitative", "axis": null}, "y": {"datum": 1.069, "type": "quantitative"}}},
        {"data": {"name": "one"}, "mark": {"type": "text", "text": "10% D"}, "encoding": {"x": {"datum": 463.42, "type": "quantitative", "axis": null}, "y": {"datum": 0.943, "type": "quantitative"}}}
      ]},
      {"width": 174, "height": 304, "layer": [
        {"data": {"name": "b3a2"}, "mark": "line", "encoding": {"x": {"field": "mz", "type": "quantitative", "scale": {"domain": [461, 466], "nice": false, "zero": false}, "axis": null}, "y": {"field": "i", "type": "quantitative", "scale": {"domain": [-0.1, 1.2], "nice": false, "zero": false}, "axis": null}}},
        {"data": {"name": "one"}, "mark": {"type": "text", "text": "340 ms"}, "encoding": {"x": {"datum": 463.37, "type": "quantitative", "axis": null}, "y": {"datum": 1.09, "type": "quantitative", "axis": null}}},
        {"data": {"name": "one"}, "mark": {"type": "text", "text": "15% D"}, "encoding": {"x": {"datum": 463.44, "type": "quantitative", "axis": null}, "y": {"datum": 0.943, "type": "quantitative", "axis": null}}},
        {"data": {"name": "one"}, "mark": {"type": "text", "text": "292-296\u00a0\u00a0\u00a0\u00a0\u00a0GGEKA", "fontSize": 32, "align": "center"}, "encoding": {"x": {"datum": 463.87, "type": "quantitative", "axis": null}, "y": {"datum": 1.432, "type": "quantitative", "axis": null}}}
      ]},
      {"width": 174, "height": 304, "layer": [
        {"data": {"name": "b3a3"}, "mark": "line", "encoding": {"x": {"field": "mz", "type": "quantitative", "scale": {"domain": [461, 466], "nice": false, "zero": false}, "axis": null}, "y": {"field": "i", "type": "quantitative", "scale": {"domain": [-0.1, 1.2], "nice": false, "zero": false}, "axis": null}}},
        {"data": {"name": "one"}, "mark": {"type": "text", "text": "630 ms"}, "encoding": {"x": {"datum": 463.11, "type": "quantitative", "axis": null}, "y": {"datum": 1.1, "type": "quantitative", "axis": null}}},
        {"data": {"name": "one"}, "mark": {"type": "text", "text": "32% D"}, "encoding": {"x": {"datum": 463.05, "type": "quantitative", "axis": null}, "y": {"datum": 0.943, "type": "quantitative", "axis": null}}}
      ]},
      {"width": 174, "height": 304, "layer": [
        {"data": {"name": "b3b1"}, "mark": "line", "encoding": {"x": {"field": "mz", "type": "quantitative", "scale": {"domain": [461, 466], "nice": false, "zero": false}, "axis": {"values": [461, 462, 463, 464, 465, 466], "tickCount": 20, "format": "d", "labelExpr": "datum.value == 466 ? '' : datum.label", "title": null, "labelOverlap": false, "labelFontSize": 13, "labelPadding": 7}}, "y": {"field": "i", "type": "quantitative", "scale": {"domain": [-0.1, 1.2], "nice": false, "zero": false}, "axis": {"values": [0, 0.2, 0.4, 0.6, 0.8, 1, 1.2], "tickCount": 20, "format": ".1f", "title": null, "labelOverlap": false, "labelFontSize": 17, "labelPadding": 8}}}},
        {"data": {"name": "one"}, "mark": {"type": "text", "text": "42 ms"}, "encoding": {"x": {"datum": 463.4, "type": "quantitative"}, "y": {"datum": 1.117, "type": "quantitative"}}},
        {"data": {"name": "one"}, "mark": {"type": "text", "text": "2% D"}, "encoding": {"x": {"datum": 463.4, "type": "quantitative"}, "y": {"datum": 0.988, "type": "quantitative"}}}
      ]},
      {"width": 174, "height": 304, "layer": [
        {"data": {"name": "b3b2"}, "mark": "line", "encoding": {"x": {"field": "mz", "type": "quantitative", "scale": {"domain": [461, 466], "nice": false, "zero": false}, "axis": {"values": [461, 462, 463, 464, 465, 466], "tickCount": 20, "format": "d", "labelExpr": "datum.value == 466 ? '' : datum.label", "labelOverlap": false, "labelFontSize": 13, "labelPadding": 7, "title": "m/z (Da)", "titleFont": "DejaVu Sans", "titleFontSize": 22, "titleFontWeight": "bold", "titleColor": "black", "titleY": 55, "titleBaseline": "middle"}}, "y": {"field": "i", "type": "quantitative", "scale": {"domain": [-0.1, 1.2], "nice": false, "zero": false}, "axis": null}}},
        {"data": {"name": "one"}, "mark": {"type": "text", "text": "340 ms"}, "encoding": {"x": {"datum": 463.21, "type": "quantitative"}, "y": {"datum": 1.127, "type": "quantitative", "axis": null}}},
        {"data": {"name": "one"}, "mark": {"type": "text", "text": "3% D"}, "encoding": {"x": {"datum": 463.28, "type": "quantitative"}, "y": {"datum": 1.006, "type": "quantitative", "axis": null}}}
      ]},
      {"width": 174, "height": 304, "layer": [
        {"data": {"name": "b3b3"}, "mark": "line", "encoding": {"x": {"field": "mz", "type": "quantitative", "scale": {"domain": [461, 466], "nice": false, "zero": false}, "axis": {"values": [461, 462, 463, 464, 465, 466], "tickCount": 20, "format": "d", "title": null, "labelOverlap": false, "labelFontSize": 13, "labelPadding": 7}}, "y": {"field": "i", "type": "quantitative", "scale": {"domain": [-0.1, 1.2], "nice": false, "zero": false}, "axis": null}}},
        {"data": {"name": "one"}, "mark": {"type": "text", "text": "630 ms"}, "encoding": {"x": {"datum": 462.96, "type": "quantitative"}, "y": {"datum": 1.125, "type": "quantitative", "axis": null}}},
        {"data": {"name": "one"}, "mark": {"type": "text", "text": "20% D"}, "encoding": {"x": {"datum": 463.05, "type": "quantitative"}, "y": {"datum": 0.996, "type": "quantitative", "axis": null}}}
      ]}
    ], "columns": 3, "spacing": 0, "bounds": "flush"}
  ], "spacing": 8}
]
}
